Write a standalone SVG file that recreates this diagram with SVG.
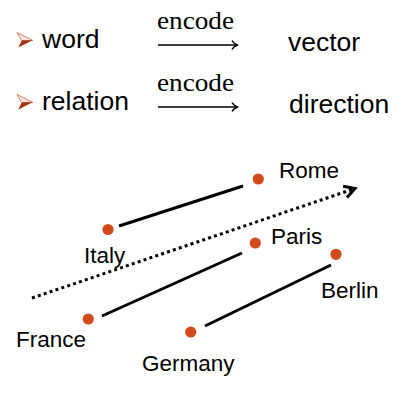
<svg xmlns="http://www.w3.org/2000/svg" width="411" height="405" viewBox="0 0 411 405">
<defs>
<style>
.t{font-family:"Liberation Sans",Arial,sans-serif;fill:#000}
.big{font-size:26.5px}
.lbl{font-size:22.5px}
.enc{font-family:"Liberation Serif","Times New Roman",serif;font-size:25px;fill:#000}
.arr{fill:none;stroke:#000;stroke-width:1.5}
.seg{stroke:#000;stroke-width:3;fill:none}
.dot{fill:#D24A1E}
.bl{fill:#FBE3DA;stroke:#C8684A;stroke-width:0.8}
.bd{fill:#A3340F}
</style>
<marker id="chev" viewBox="0 0 10 10" refX="8" refY="5" markerWidth="5" markerHeight="5" orient="auto" markerUnits="strokeWidth">
<path d="M1,1 L8,5 L1,9" fill="none" stroke="#000" stroke-width="2"/>
</marker>
</defs>
<rect width="411" height="405" fill="#fff"/>
<g id="bullet1">
<polygon class="bl" points="17,32.5 32.7,40.3 21.7,40.6"/>
<polygon class="bd" points="21.7,40.6 32.7,40.3 18.3,47.5"/>
</g>
<g id="bullet2">
<polygon class="bl" points="17,94.5 32.7,102.3 21.7,102.6"/>
<polygon class="bd" points="21.7,102.6 32.7,102.3 18.3,109.5"/>
</g>
<g id="word"><text class="t big" x="42" y="48">word</text></g>
<g id="vector"><text class="t big" x="288" y="51">vector</text></g>
<g id="relation"><text class="t big" x="42" y="110">relation</text></g>
<g id="direction"><text class="t big" x="289" y="113">direction</text></g>
<g id="encode1">
<text class="enc" x="157" y="29" textLength="77" lengthAdjust="spacingAndGlyphs">encode</text>
<path class="arr" d="M158,45 H237.5"/>
<path class="arr" d="M232,40.5 Q234,44 238,45 Q234,46 232,49.5"/>
</g>
<g id="encode2">
<text class="enc" x="157" y="91" textLength="77" lengthAdjust="spacingAndGlyphs">encode</text>
<path class="arr" d="M158,107 H237.5"/>
<path class="arr" d="M232,102.5 Q234,106 238,107 Q234,108 232,111.5"/>
</g>
<g id="connectors">
<line class="seg" x1="119" y1="226" x2="243" y2="186"/>
<line class="seg" x1="102" y1="316" x2="242" y2="253"/>
<line class="seg" x1="205" y1="326" x2="331" y2="265"/>
<line x1="32" y1="298" x2="355" y2="188.5" stroke="#000" stroke-width="3" stroke-dasharray="3,3.2" marker-end="url(#chev)"/>
</g>
<g id="Rome"><circle class="dot" cx="258.3" cy="179" r="5.6"/><text class="t lbl" x="279" y="178">Rome</text></g>
<g id="Italy"><circle class="dot" cx="108" cy="229.5" r="5.6"/><text class="t lbl" x="84" y="263">Italy</text></g>
<g id="Paris"><circle class="dot" cx="255.3" cy="243" r="5.6"/><text class="t lbl" x="271" y="244">Paris</text></g>
<g id="France"><circle class="dot" cx="88.3" cy="319" r="5.6"/><text class="t lbl" x="16" y="347">France</text></g>
<g id="Berlin"><circle class="dot" cx="336" cy="254.3" r="5.6"/><text class="t lbl" x="321" y="298">Berlin</text></g>
<g id="Germany"><circle class="dot" cx="190.7" cy="332" r="5.6"/><text class="t lbl" x="142" y="371">Germany</text></g>
</svg>
